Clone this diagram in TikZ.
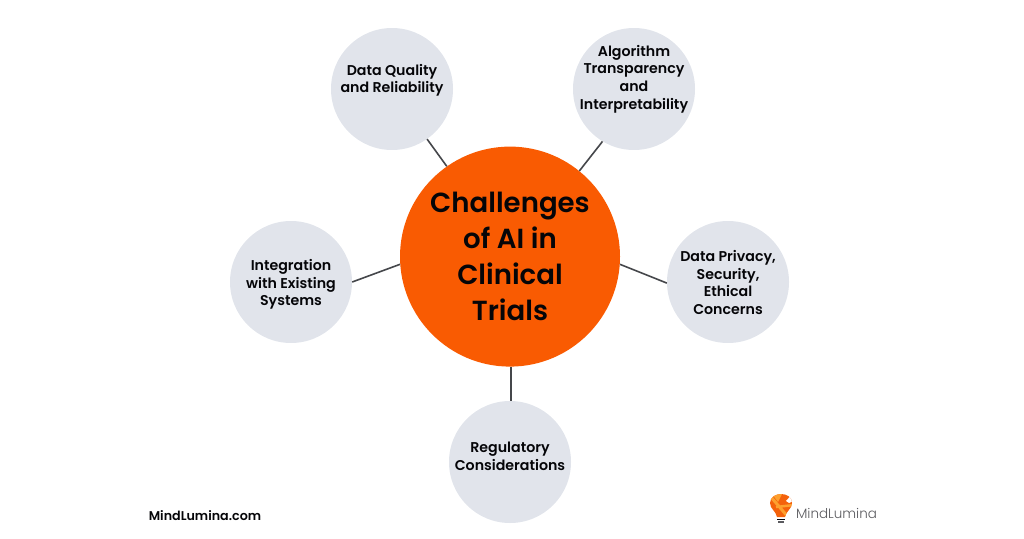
\documentclass[tikz,border=0pt]{standalone}
\usepackage{fontspec}
\setmainfont{Poppins}[BoldFont={Poppins SemiBold}]
\newfontfamily\logofont{Poppins Light}
\definecolor{sat}{HTML}{E1E4EB}
\definecolor{core}{HTML}{F95B02}
\definecolor{ink}{HTML}{050508}
\definecolor{linkc}{HTML}{45474B}
\definecolor{logoc}{HTML}{5A5A5E}
\definecolor{bulbA}{HTML}{F4620C}
\definecolor{bulbB}{HTML}{FDA02E}
\tikzset{
 x=1pt,y=-1pt,
 sat/.style={circle,fill=sat,minimum size=122pt,inner sep=0pt},
 satlabel/.style={inner sep=0pt,align=center,font=\fontsize{14.2}{17.6}\selectfont\bfseries,text=ink},
 core/.style={circle,fill=core,minimum size=220pt,inner sep=0pt,align=center,font=\fontsize{27.6}{36}\selectfont\bfseries,text=ink},
 spoke/.style={draw=linkc,line width=1.6pt},
 plain/.style={inner sep=0pt,text=ink}
}
\begin{document}
\begin{tikzpicture}
\useasboundingbox (0,0) rectangle (1024,538);
\node[sat] (q) at (392,89) {};
\node[sat] (a) at (634,89) {};
\node[sat] (d) at (728,282) {};
\node[sat] (r) at (510,462) {};
\node[sat] (i) at (291,282) {};
\node[core,text depth=0pt] (c) at (510,256.6) {Challenges\\of AI in\\Clinical\\Trials};
\node[satlabel] (qt) at (392,80.3) {Data Quality\\and Reliability};
\node[satlabel] (at) at (634,79) {Algorithm\\Transparency\\and\\Interpretability};
\node[satlabel] (dt) at (728,282.5) {Data Privacy,\\Security,\\Ethical\\Concerns};
\node[satlabel] (rt) at (510,456.5) {Regulatory\\Considerations};
\node[satlabel] (it) at (291,284.5) {Integration\\with Existing\\Systems};
\draw[spoke] (c.125) -- (q.305);
\draw[spoke] (c.51) -- (a.239);
\draw[spoke] (c.-4) -- (d.181);
\path (c.270) ++(1,0) coordinate (rs) (r.90) ++(1,0) coordinate (re);
\draw[spoke] (rs) -- (re);
\draw[spoke] (c.184) -- (i.0);
\node[plain,font=\fontsize{12.7}{16}\selectfont\bfseries] (site) at (205,515.5) {MindLumina.com};
% logo
\fill[bulbA] (777,517) .. controls (776,511) and (770,509) .. (770,503) .. controls (770,497) and (776,494) .. (781,494) .. controls (787,494) and (792,497) .. (792,503) .. controls (792,509) and (786,511) .. (785,517) -- cycle;
\begin{scope}
\clip (777,517) .. controls (776,511) and (770,509) .. (770,503) .. controls (770,497) and (776,494) .. (781,494) .. controls (787,494) and (792,497) .. (792,503) .. controls (792,509) and (786,511) .. (785,517) -- cycle;
\draw[bulbB,line width=3pt] (771,497) -- (788,517);
\draw[bulbB,line width=2.5pt] (776,507) -- (794,505);
\fill[bulbB] (772,494) -- (782,494) -- (778,502) -- cycle;
\fill[white] (786,501) -- (795,491) -- (796,500) -- (789,503) -- cycle;
\end{scope}
\fill[ink] (777,518.5) rectangle (785,520);
\fill[logoc] (778,521) rectangle (784,522.5);
\node[inner sep=0pt,text=logoc,font=\fontsize{13.5}{16}\logofont] (logo) at (836.5,513) {MindLumina};
\end{tikzpicture}
\end{document}
